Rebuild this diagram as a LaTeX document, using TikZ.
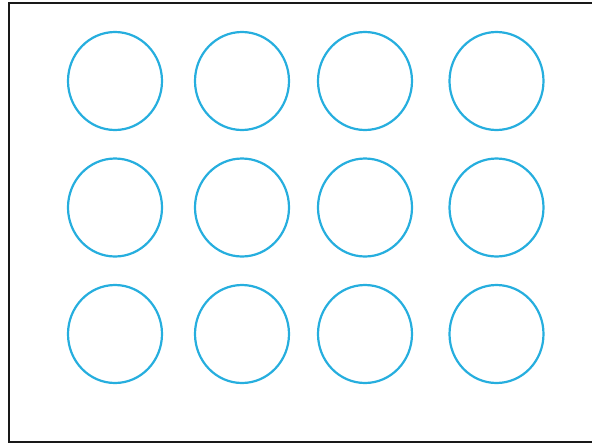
\documentclass[tikz,border=0pt]{standalone}
\usetikzlibrary{shapes.geometric}
\definecolor{ringblue}{RGB}{38,174,222}
\definecolor{frame}{RGB}{25,25,25}
\tikzset{
  ring/.style={ellipse, draw=ringblue, line width=2.2pt, minimum width=94pt, minimum height=98pt, inner sep=0pt},
  framebox/.style={draw=frame, line width=2pt}
}
\begin{document}
\begin{tikzpicture}[x=1pt,y=-1pt]
\useasboundingbox (0,0) rectangle (592,445);
\draw[framebox] (600,3) -- (8.5,3) -- (8.5,441.5) -- (600,441.5);
\foreach \r/\y in {1/81,2/207.5,3/334}{
  \foreach \c/\x in {1/115,2/242,3/365,4/496.5}{
    \node[ring] (c\r\c) at (\x,\y) {};
  }
}
\end{tikzpicture}
\end{document}
